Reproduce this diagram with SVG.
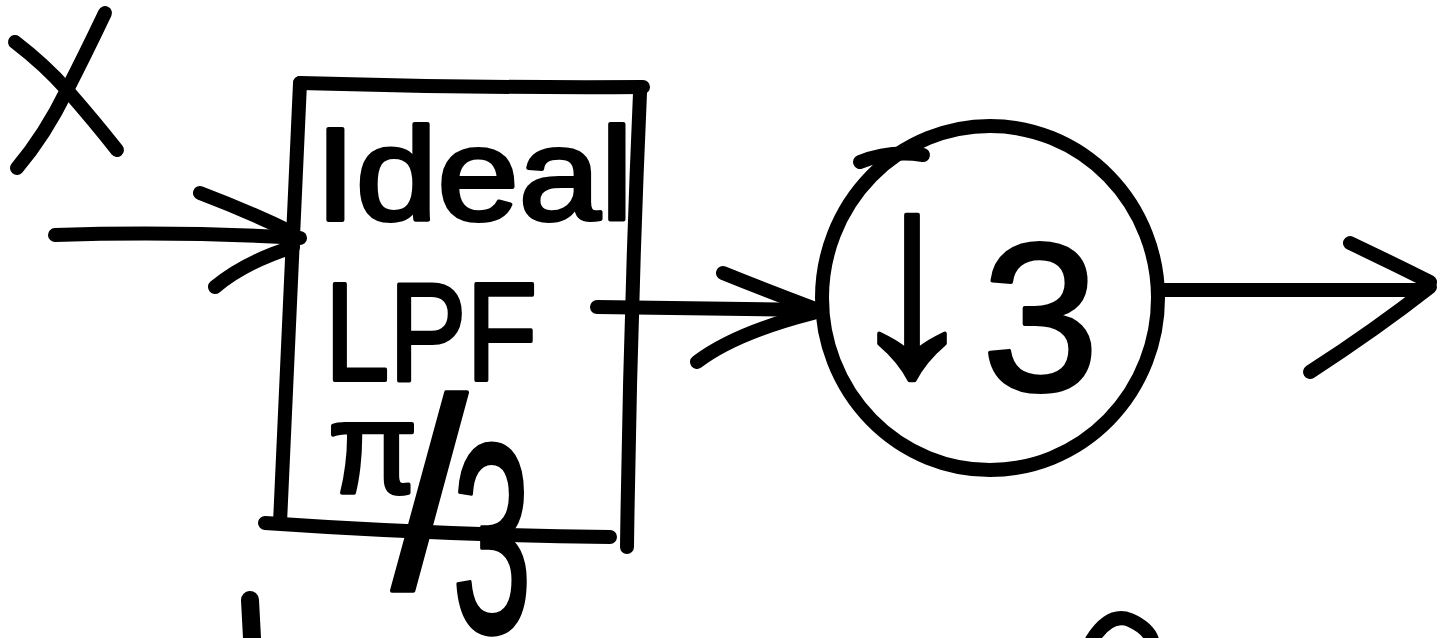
<svg xmlns="http://www.w3.org/2000/svg" width="1440" height="638" viewBox="0 0 1440 638">
<style>
.s{fill:none;stroke:#000;stroke-width:14;stroke-linecap:round;stroke-linejoin:round}
.t{font-family:"Liberation Sans",Arial,sans-serif;fill:#000;stroke:#000;stroke-width:4;stroke-linejoin:round}
</style>
<rect width="1440" height="638" fill="#fff"/>
<g id="label-x">
<path class="s" d="M15,42 Q45,65 67,90 Q95,122 117,150"/>
<path class="s" d="M105,13 Q85,55 67,90 Q45,135 17,168"/>
</g>
<g id="connectors">
<path class="s" d="M55,235 Q180,231 300,238"/>
<path class="s" d="M200,193 Q250,212 293,233"/>
<path class="s" d="M215,287 Q245,262 293,247"/>
<path class="s" d="M597,307 L813,310"/>
<path class="s" d="M723,273 Q770,292 813,308"/>
<path class="s" d="M697,362 Q735,333 813,313"/>
<path class="s" d="M1163,290 L1420,290"/>
<path class="s" d="M1350,243 Q1390,262 1430,282"/>
<path class="s" d="M1310,372 Q1375,330 1430,287"/>
</g>
<g id="node-lpf">
<path class="s" d="M300,83 Q470,88 643,87"/>
<path class="s" d="M300,83 Q290,300 280,523"/>
<path class="s" d="M265,523 Q440,535 610,537"/>
<path class="s" d="M640,93 Q630,320 627,547"/>
<text class="t" x="315" y="220" font-size="132" textLength="318" lengthAdjust="spacingAndGlyphs">Ideal</text>
<text class="t" x="325" y="380" font-size="140" textLength="212" lengthAdjust="spacingAndGlyphs">LPF</text>
<text class="t"><tspan x="328" y="493" font-size="130">π</tspan><tspan x="392" y="588" font-size="270">/</tspan><tspan x="452" y="632" font-size="270" textLength="80" lengthAdjust="spacingAndGlyphs">3</tspan></text>
</g>
<g id="node-down3">
<ellipse class="s" cx="990" cy="298" rx="168" ry="172"/>
<path class="s" d="M860,162 Q890,150 923,155"/>
<text class="t"><tspan x="842" y="372" font-size="280">↓</tspan><tspan x="982" y="390" font-size="210">3</tspan></text>
</g>
<g id="fragments">
<path class="s" d="M250,600 L252,638" style="stroke-width:18"/>
<path class="s" d="M1092,640 Q1110,612 1130,620 Q1148,628 1152,640"/>
</g>
</svg>
